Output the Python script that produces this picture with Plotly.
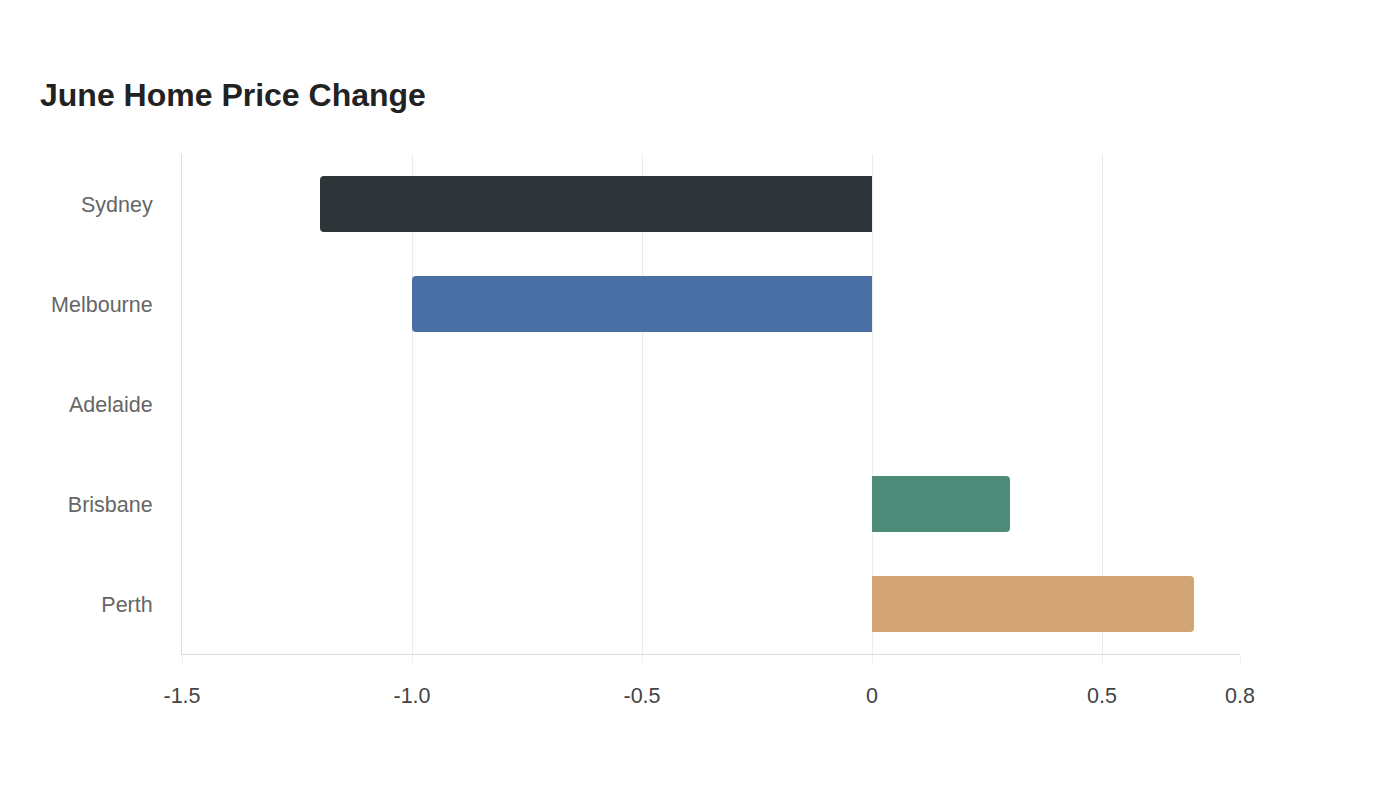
import plotly.graph_objects as go

cities = ["Sydney", "Melbourne", "Adelaide", "Brisbane", "Perth"]
changes = [-1.2, -1.0, 0.0, 0.3, 0.7]
colors = ["#2d3538", "#4a6fa5", "#8a8a8a", "#4e8c7a", "#d4a574"]
tick_vals = [-1.5, -1.0, -0.5, 0, 0.5, 0.8]
tick_text = ["-1.5", "-1.0", "-0.5", "0", "0.5", "0.8"]

fig = go.Figure(go.Bar(
    x=changes, y=cities, orientation="h",
    marker=dict(color=colors, line=dict(width=0)),
    hoverinfo="x+y",
))

fig.update_layout(
    width=1400, height=800,
    paper_bgcolor="white", plot_bgcolor="white",
    margin=dict(l=182, r=160, t=154, b=146),
    font=dict(family="Liberation Sans, Arial, sans-serif", size=20, color="#666"),
    title=dict(text="<b>June Home Price Change</b>", x=40/1400, xanchor="left",
               y=1-95/800, yanchor="middle",
               font=dict(size=32, color="#222")),
    bargap=0.44,
    barcornerradius=4,
    showlegend=False,
)
fig.update_xaxes(
    range=[-1.5, 0.8], tickvals=tick_vals, ticktext=tick_text,
    showgrid=True, gridcolor="#ececec", gridwidth=1,
    zeroline=True, zerolinecolor="#ececec", zerolinewidth=1,
    showline=True, linecolor="#dddddd", linewidth=1,
    ticks="outside", ticklen=8, tickcolor="#eeeeee",
    ticklabelstandoff=14,
    tickfont=dict(size=21.5, color="#444"),
)
fig.update_yaxes(
    autorange="reversed",
    showgrid=False, showline=True, linecolor="#dddddd", linewidth=1,
    ticks="", ticklabelstandoff=24,
    tickfont=dict(size=21.5, color="#666"),
)

fig.write_html("out.html")
